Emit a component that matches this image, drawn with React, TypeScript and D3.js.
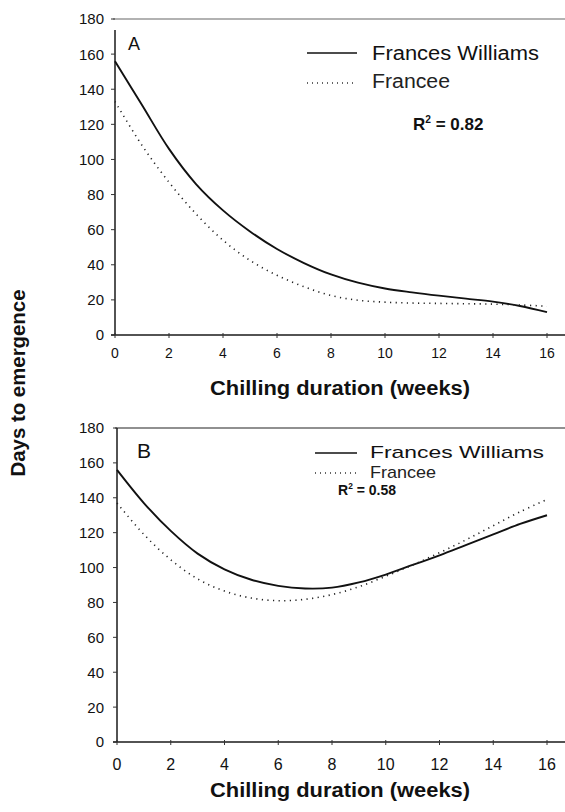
import React from "react";
import * as d3 from "d3";

const weeks = [0, 1, 2, 3, 4, 5, 6, 7, 8, 9, 10, 11, 12, 13, 14, 15, 16];
const williamsA = [156, 131, 106, 86, 71, 59, 49, 41, 34.5, 29.8, 26.5, 24.3, 22.4, 20.7, 19, 16.5, 13];
const franceeA = [133, 108, 87, 69, 54, 42.5, 34, 27.5, 22.5, 19.8, 18.7, 18.2, 18, 17.8, 17.6, 17.1, 16.4];
const williamsB = [156, 137, 121, 108, 99, 93, 89.5, 88, 88.5, 91.5, 96, 101.5, 107, 113, 119, 125, 130];
const franceeB = [137, 119, 104.5, 93.5, 86.5, 82.5, 81, 81.8, 84.5, 89, 95, 101.5, 108.5, 116, 124, 132, 139];
const xTicks = [0, 2, 4, 6, 8, 10, 12, 14, 16];
const yTicks = [0, 20, 40, 60, 80, 100, 120, 140, 160, 180];
const seriesNames = ["Frances Williams", "Francee"];
const panelLetters = ["A", "B"];
const r2Values = ["0.82", "0.58"];

const FONT = "'Liberation Sans', Arial, Helvetica, sans-serif";

type PanelCfg = {
  x0: number; x1: number; y0: number; y1: number;
  axisTop: number; xTickFont: number; xTickBase: number; titleBase: number;
  letter: { x: number; y: number; size: number };
  leg: { lx0: number; lx1: number; tx: number; y1: number; t1: number; y2: number; t2: number; w1: number; w2: number; size: number };
  r2: { x: number; y: number; size: number };
  topStroke: string;
};

const panels: PanelCfg[] = [
  {
    x0: 115, x1: 547, y0: 335, y1: 19, axisTop: 30, xTickFont: 14, xTickBase: 358, titleBase: 395,
    letter: { x: 128, y: 50, size: 18 },
    leg: { lx0: 307, lx1: 357, tx: 372, y1: 53, t1: 60, y2: 83, t2: 88, w1: 167, w2: 78, size: 20 },
    r2: { x: 413, y: 130, size: 17 },
    topStroke: "#666",
  },
  {
    x0: 117, x1: 547, y0: 742, y1: 428, axisTop: 428, xTickFont: 16, xTickBase: 770, titleBase: 797,
    letter: { x: 137, y: 458, size: 21 },
    leg: { lx0: 315, lx1: 357, tx: 370, y1: 453, t1: 458, y2: 473, t2: 478, w1: 174, w2: 66, size: 17 },
    r2: { x: 338, y: 495, size: 14 },
    topStroke: "#222",
  },
];

const data = [
  [williamsA, franceeA],
  [williamsB, franceeB],
];

function Panel({ cfg, idx }: { cfg: PanelCfg; idx: number }) {
  const x = d3.scaleLinear().domain([0, 16]).range([cfg.x0, cfg.x1]);
  const y = d3.scaleLinear().domain([0, 180]).range([cfg.y0, cfg.y1]);
  const line = d3
    .line<number>()
    .x((_, i) => x(weeks[i]))
    .y((d) => y(d))
    .curve(d3.curveCatmullRom.alpha(0.5));
  const [sw, sf] = data[idx];
  return (
    <g>
      <line x1={cfg.x0 - 2} x2={565} y1={y(180)} y2={y(180)} stroke={cfg.topStroke} strokeWidth={1.2} />
      <line x1={cfg.x0} x2={cfg.x0} y1={cfg.axisTop} y2={cfg.y0} stroke="#1a1a1a" strokeWidth={1.5} />
      <line x1={cfg.x0 - 4} x2={565} y1={cfg.y0} y2={cfg.y0} stroke="#1a1a1a" strokeWidth={1.5} />
      {yTicks.map((t) => (
        <g key={"y" + t}>
          <line x1={cfg.x0 - 4} x2={cfg.x0} y1={y(t)} y2={y(t)} stroke="#333" strokeWidth={1} />
          <text x={104} y={y(t)} dy="0.36em" textAnchor="end" fontSize={15} fontFamily={FONT} fill="#111">
            {t}
          </text>
        </g>
      ))}
      {xTicks.map((t) => (
        <g key={"x" + t}>
          <line x1={x(t)} x2={x(t)} y1={cfg.y0 - 2} y2={cfg.y0 + 3} stroke="#333" strokeWidth={1} />
          <text x={x(t)} y={cfg.xTickBase} textAnchor="middle" fontSize={cfg.xTickFont} fontFamily={FONT} fill="#111">
            {t}
          </text>
        </g>
      ))}
      <text x={340} y={cfg.titleBase} textAnchor="middle" fontSize={20} fontWeight="bold" fontFamily={FONT} fill="#111"
        textLength={260} lengthAdjust="spacingAndGlyphs">
        Chilling duration (weeks)
      </text>
      <path d={line(sw) || ""} fill="none" stroke="#111" strokeWidth={1.9} />
      <path d={line(sf) || ""} fill="none" stroke="#222" strokeWidth={1.6} strokeDasharray="1.2 4.4" />
      <text x={cfg.letter.x} y={cfg.letter.y} fontSize={cfg.letter.size} fontFamily={FONT} fill="#111">
        {panelLetters[idx]}
      </text>
      <line x1={cfg.leg.lx0} x2={cfg.leg.lx1} y1={cfg.leg.y1} y2={cfg.leg.y1} stroke="#111" strokeWidth={1.6} />
      <text x={cfg.leg.tx} y={cfg.leg.t1} fontSize={cfg.leg.size} fontFamily={FONT} fill="#111"
        textLength={cfg.leg.w1} lengthAdjust="spacingAndGlyphs">
        {seriesNames[0]}
      </text>
      <line x1={cfg.leg.lx0} x2={cfg.leg.lx1} y1={cfg.leg.y2} y2={cfg.leg.y2} stroke="#333" strokeWidth={1.3} strokeDasharray="1 4" />
      <text x={cfg.leg.tx} y={cfg.leg.t2} fontSize={cfg.leg.size} fontFamily={FONT} fill="#222"
        textLength={cfg.leg.w2} lengthAdjust="spacingAndGlyphs">
        {seriesNames[1]}
      </text>
      <text x={cfg.r2.x} y={cfg.r2.y} fontSize={cfg.r2.size} fontWeight="bold" fontFamily={FONT} fill="#111">
        R
        <tspan dy={-cfg.r2.size * 0.42} fontSize={cfg.r2.size * 0.6}>2</tspan>
        <tspan dy={cfg.r2.size * 0.42}>{" = " + r2Values[idx]}</tspan>
      </text>
    </g>
  );
}

export default function App() {
  return (
    <svg
      width={565}
      height={812}
      viewBox="0 0 565 812"
      style={{ position: "absolute", left: 0, top: 0, background: "#fff" }}
    >
      <rect x={0} y={0} width={565} height={812} fill="#fff" />
      {panels.map((p, i) => (
        <Panel key={i} cfg={p} idx={i} />
      ))}
      <text
        transform="translate(25,383) rotate(-90)"
        textAnchor="middle"
        fontSize={20}
        fontWeight="bold"
        fontFamily={FONT}
        fill="#111"
        textLength={187}
        lengthAdjust="spacingAndGlyphs"
      >
        Days to emergence
      </text>
    </svg>
  );
}
